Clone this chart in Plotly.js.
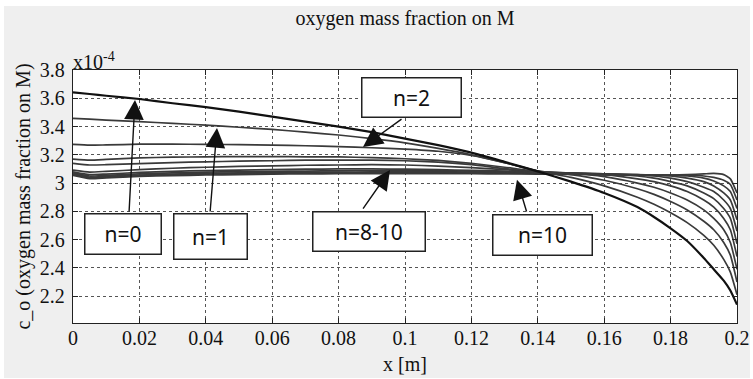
<!DOCTYPE html>
<html>
<head>
<meta charset="utf-8">
<script src="https://cdn.plot.ly/plotly-3.0.1.min.js"></script>
<style>
  html, body { margin: 0; padding: 0; background: #ffffff; width: 753px; height: 379px; overflow: hidden; }
  #chart { position: absolute; left: 4px; top: 6px; width: 746px; height: 372px; }
</style>
</head>
<body>
<div id="chart"></div>
<script>
// x positions [m]
const xPos = [0, 0.005, 0.01, 0.02, 0.03, 0.04, 0.05, 0.06, 0.07, 0.08, 0.09, 0.1, 0.11, 0.12, 0.13,
              0.14, 0.15, 0.16, 0.17, 0.175, 0.18, 0.185, 0.19, 0.193, 0.196, 0.198, 0.2];

// oxygen mass fraction on M (x10^-4), one array per iteration n
const n0  = [3.642, 3.630, 3.618, 3.595, 3.565, 3.537, 3.505, 3.470, 3.435, 3.400, 3.360, 3.315, 3.268, 3.215, 3.150,
             3.083, 3.010, 2.930, 2.830, 2.760, 2.680, 2.590, 2.470, 2.390, 2.310, 2.240, 2.140];
const n1  = [3.458, 3.452, 3.445, 3.435, 3.422, 3.410, 3.395, 3.380, 3.360, 3.340, 3.315, 3.285, 3.245, 3.200, 3.145,
             3.085, 3.040, 2.980, 2.900, 2.850, 2.790, 2.720, 2.630, 2.560, 2.460, 2.370, 2.210];
const n2  = [3.274, 3.268, 3.270, 3.275, 3.275, 3.274, 3.272, 3.268, 3.264, 3.258, 3.250, 3.240, 3.225, 3.195, 3.145,
             3.085, 3.060, 3.020, 2.960, 2.920, 2.870, 2.810, 2.730, 2.670, 2.580, 2.490, 2.300];
const n3  = [3.170, 3.162, 3.167, 3.178, 3.183, 3.186, 3.187, 3.187, 3.186, 3.185, 3.180, 3.172, 3.160, 3.140, 3.112,
             3.083, 3.070, 3.045, 3.000, 2.970, 2.930, 2.880, 2.810, 2.750, 2.670, 2.580, 2.390];
const n4  = [3.140, 3.128, 3.130, 3.138, 3.145, 3.150, 3.155, 3.158, 3.162, 3.163, 3.162, 3.158, 3.148, 3.130, 3.102,
             3.080, 3.070, 3.060, 3.030, 3.010, 2.980, 2.940, 2.880, 2.830, 2.750, 2.670, 2.480];
const n5  = [3.092, 3.078, 3.083, 3.095, 3.105, 3.112, 3.118, 3.122, 3.126, 3.128, 3.130, 3.128, 3.120, 3.110, 3.095,
             3.080, 3.070, 3.065, 3.050, 3.035, 3.010, 2.980, 2.930, 2.890, 2.820, 2.750, 2.570];
const n6  = [3.080, 3.060, 3.064, 3.075, 3.083, 3.088, 3.092, 3.095, 3.098, 3.100, 3.100, 3.098, 3.095, 3.090, 3.085,
             3.075, 3.070, 3.065, 3.060, 3.050, 3.035, 3.010, 2.970, 2.940, 2.880, 2.820, 2.660];
const n7  = [3.072, 3.050, 3.055, 3.065, 3.072, 3.077, 3.080, 3.083, 3.085, 3.087, 3.088, 3.088, 3.087, 3.085, 3.080,
             3.075, 3.070, 3.065, 3.060, 3.055, 3.050, 3.035, 3.010, 2.980, 2.930, 2.880, 2.740];
const n8  = [3.065, 3.042, 3.047, 3.057, 3.064, 3.069, 3.072, 3.075, 3.077, 3.078, 3.079, 3.079, 3.079, 3.078, 3.076,
             3.070, 3.065, 3.060, 3.058, 3.056, 3.055, 3.050, 3.035, 3.015, 2.980, 2.940, 2.820];
const n9  = [3.060, 3.037, 3.042, 3.052, 3.058, 3.063, 3.066, 3.069, 3.071, 3.072, 3.073, 3.073, 3.073, 3.072, 3.070,
             3.068, 3.065, 3.060, 3.058, 3.056, 3.056, 3.056, 3.050, 3.040, 3.020, 2.990, 2.880];
const n10 = [3.055, 3.032, 3.037, 3.047, 3.053, 3.057, 3.060, 3.063, 3.065, 3.066, 3.067, 3.067, 3.067, 3.066, 3.065,
             3.064, 3.062, 3.060, 3.058, 3.057, 3.057, 3.060, 3.065, 3.068, 3.060, 3.030, 2.930];

const xTicks = [0, 0.02, 0.04, 0.06, 0.08, 0.1, 0.12, 0.14, 0.16, 0.18, 0.2];
const yTicks = [2.2, 2.4, 2.6, 2.8, 3, 3.2, 3.4, 3.6, 3.8];

const series = [n10, n9, n8, n7, n6, n5, n4, n3, n2, n1, n0];
const names  = ['n=10','n=9','n=8','n=7','n=6','n=5','n=4','n=3','n=2','n=1','n=0'];

const traces = series.map((ys, i) => ({
  x: xPos, y: ys, type: 'scatter', mode: 'lines', name: names[i],
  line: { color: i === series.length - 1 ? '#111111' : '#3a3a3a',
          width: i === series.length - 1 ? 2.2 : 1.7, shape: 'spline', smoothing: 0.5 },
  hoverinfo: 'skip'
}));

const serif = 'Liberation Serif, Times New Roman, serif';
const sans = 'Noto Sans, Open Sans, Liberation Sans, sans-serif';

function box(text, x, y, w, h) {
  return { text: text, x: x, y: y, xref: 'x', yref: 'y', showarrow: false,
           width: w, height: h, bgcolor: '#ffffff', bordercolor: '#222222', borderwidth: 1.5, borderpad: 0,
           font: { family: sans, size: 21, color: '#111111' }, align: 'center', valign: 'middle' };
}
function arrow(tx, ty, hx, hy) {
  return { text: '', x: hx, y: hy, ax: tx, ay: ty, xref: 'x', yref: 'y', axref: 'x', ayref: 'y',
           showarrow: true, arrowhead: 2, arrowsize: 2.8, arrowwidth: 1.4, arrowcolor: '#111111' };
}

const annotations = [
  arrow(0.01687, 2.788, 0.01867, 3.588),
  arrow(0.04127, 2.788, 0.04337, 3.389),
  arrow(0.0994, 3.46, 0.08735, 3.255),
  arrow(0.08705, 2.809, 0.09548, 3.092),
  arrow(0.13675, 2.788, 0.13373, 3.024),
  box('n=0', 0.01491, 2.6425, 75, 39),
  box('n=1', 0.04127, 2.625, 72, 44),
  box('n=2', 0.1021, 3.602, 98, 38),
  box('n=8-10', 0.0893, 2.66, 111, 38),
  box('n=10', 0.1413, 2.635, 98, 39),
  { text: 'x10<sup>-4</sup>', xref: 'paper', yref: 'paper', x: 0, y: 1, xanchor: 'left', yanchor: 'bottom',
    showarrow: false, font: { family: serif, size: 20, color: '#111111' }, yshift: -5, xshift: -2 }
];

const layout = {
  width: 746, height: 372,
  margin: { l: 69, r: 13, t: 64, b: 55, pad: 0 },
  paper_bgcolor: '#efefef', plot_bgcolor: '#ffffff',
  showlegend: false,
  title: { text: 'oxygen mass fraction on M', font: { family: serif, size: 20, color: '#111111' },
           xref: 'paper', x: 0.5, xanchor: 'center', yref: 'container', y: 0.968, yanchor: 'middle' },
  xaxis: {
    range: [0, 0.2], tickvals: xTicks, ticks: 'inside', ticklen: 5, tickcolor: '#222',
    showline: true, linecolor: '#222', linewidth: 1.2, mirror: 'allticks',
    showgrid: true, gridcolor: '#555555', griddash: 'dot', gridwidth: 1, zeroline: false,
    tickfont: { family: serif, size: 20, color: '#111111' }, ticklabelstandoff: -3,
    title: { text: 'x [m]', font: { family: serif, size: 20, color: '#111111' }, standoff: 8 }
  },
  yaxis: {
    range: [2.01, 3.8], tickvals: yTicks, ticks: 'inside', ticklen: 5, tickcolor: '#222',
    showline: true, linecolor: '#222', linewidth: 1.2, mirror: 'allticks',
    showgrid: true, gridcolor: '#555555', griddash: 'dot', gridwidth: 1, zeroline: false,
    tickfont: { family: serif, size: 20, color: '#111111' }, ticklabelstandoff: 3,
    title: { text: 'c_o (oxygen mass fraction on M)', font: { family: serif, size: 20, color: '#111111' }, standoff: 3 }
  },
  annotations: annotations
};

Plotly.newPlot('chart', traces, layout, { displayModeBar: false, staticPlot: true });
</script>
</body>
</html>
